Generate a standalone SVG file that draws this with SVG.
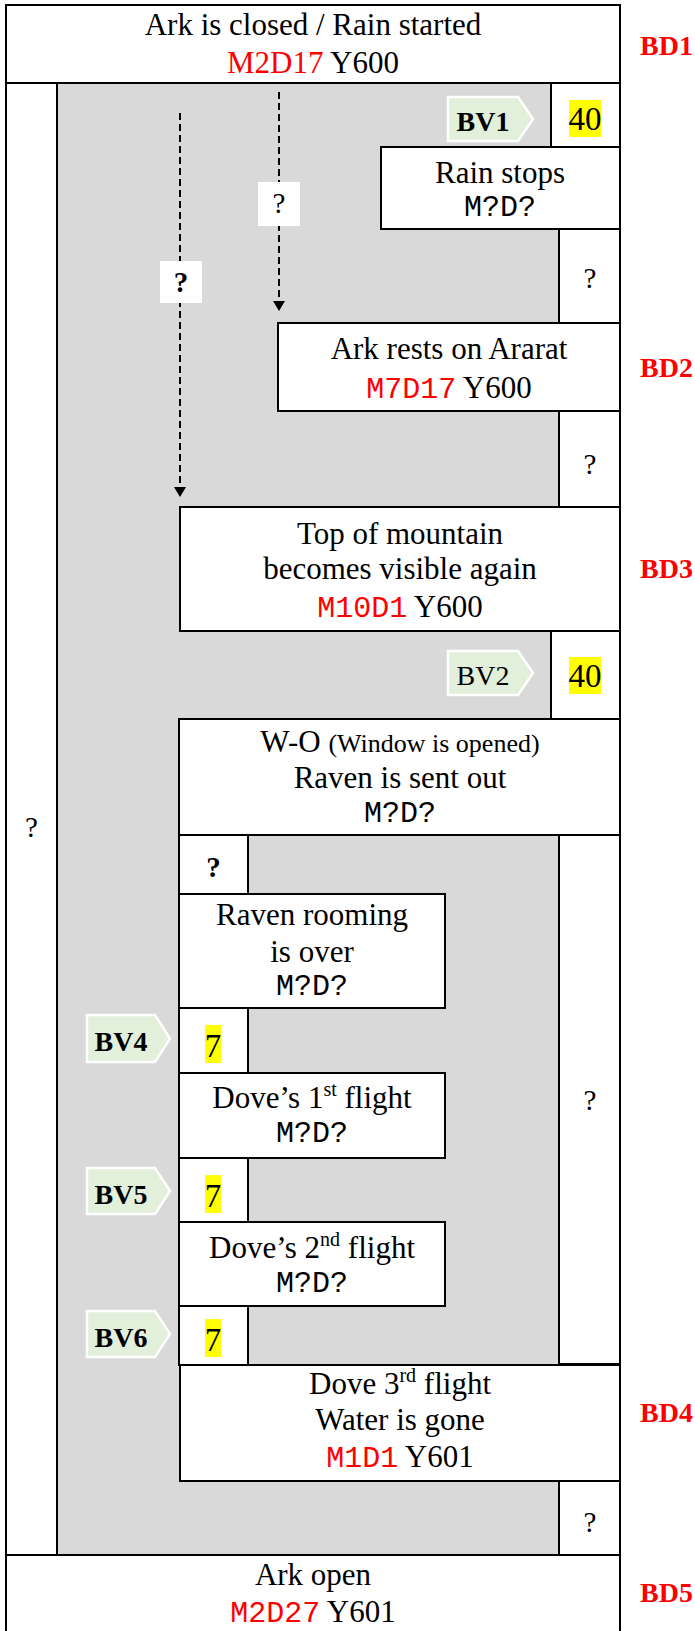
<svg xmlns="http://www.w3.org/2000/svg" width="695" height="1631" viewBox="0 0 695 1631">
<style>
.box{fill:#fff;stroke:#000;stroke-width:2}
.t{font-family:"Liberation Serif","Times New Roman",serif;font-size:31px;fill:#000;text-anchor:middle}
.sm{font-size:26px}
.mono{font-family:"Liberation Mono","Courier New",monospace;font-size:30px}
.red{fill:#ff0000}
.q{font-family:"Liberation Serif","Times New Roman",serif;font-size:29px;fill:#000;text-anchor:middle}
.qb{font-weight:bold}
.num{font-family:"Liberation Serif","Times New Roman",serif;font-size:33px;fill:#000;text-anchor:middle}
.hl{fill:#ffff00}
.chev{fill:#e2efda;stroke:#fff;stroke-width:2.5}
.bv{font-family:"Liberation Serif","Times New Roman",serif;font-size:28px;fill:#000;text-anchor:middle}
.bd{font-family:"Liberation Serif","Times New Roman",serif;font-size:28px;font-weight:bold;fill:#ff0000}
.dash{stroke:#000;stroke-width:2;stroke-dasharray:7 4;fill:none}
.lbl{fill:#fff}
</style>
<defs>
<marker id="arr" viewBox="0 0 10 12" refX="10" refY="6" markerWidth="10" markerHeight="12" markerUnits="userSpaceOnUse" orient="auto">
<path d="M0,0 L10,6 L0,12 Z" fill="#000"/>
</marker>
</defs>

<rect id="gray-area" x="57" y="83" width="502" height="1472" fill="#d9d9d9"/>

<g id="n-ark-closed">
<rect class="box" x="6" y="5" width="614" height="78"/>
<text class="t" x="313" y="35">Ark is closed / Rain started</text>
<text class="t" x="313" y="73"><tspan class="red">M2D17</tspan> Y600</text>
</g>
<g id="bd1"><text class="bd" x="640" y="55">BD1</text></g>

<g id="n-left-q">
<rect class="box" x="6" y="83" width="51" height="1472"/>
<text class="q" x="31.5" y="837">?</text>
</g>

<g id="n-40a">
<rect class="box" x="551" y="83" width="69" height="64"/>
<rect class="hl" x="569" y="100" width="32" height="37"/>
<text class="num" x="585" y="130">40</text>
</g>
<g id="bv1">
<polygon class="chev" points="448,97 518,97 533,119 518,141 448,141"/>
<text class="bv qb" x="483" y="131">BV1</text>
</g>

<g id="n-rain-stops">
<rect class="box" x="381" y="147" width="239" height="82"/>
<text class="t" x="500" y="183">Rain stops</text>
<text class="t mono" x="500" y="216">M?D?</text>
</g>

<g id="n-q1">
<rect class="box" x="559" y="229" width="61" height="94"/>
<text class="q" x="590" y="288">?</text>
</g>

<g id="n-ararat">
<rect class="box" x="278" y="323" width="342" height="88"/>
<text class="t" x="449" y="359">Ark rests on Ararat</text>
<text class="t" x="449" y="398"><tspan class="mono red">M7D17</tspan> Y600</text>
</g>
<g id="bd2"><text class="bd" x="640" y="377">BD2</text></g>

<g id="n-q2">
<rect class="box" x="559" y="411" width="61" height="96"/>
<text class="q" x="590" y="474">?</text>
</g>

<g id="n-top-mountain">
<rect class="box" x="180" y="507" width="440" height="124"/>
<text class="t" x="400" y="544">Top of mountain</text>
<text class="t" x="400" y="579">becomes visible again</text>
<text class="t" x="400" y="617"><tspan class="mono red">M10D1</tspan> Y600</text>
</g>
<g id="bd3"><text class="bd" x="640" y="578">BD3</text></g>

<g id="n-40b">
<rect class="box" x="551" y="631" width="69" height="88"/>
<rect class="hl" x="569" y="657" width="32" height="37"/>
<text class="num" x="585" y="687">40</text>
</g>
<g id="bv2">
<polygon class="chev" points="448,651 518,651 533,673 518,695 448,695"/>
<text class="bv" x="483" y="685">BV2</text>
</g>

<g id="n-window">
<rect class="box" x="179" y="719" width="441" height="116"/>
<text class="t" x="400" y="752">W-O <tspan class="sm">(Window is opened)</tspan></text>
<text class="t" x="400" y="788">Raven is sent out</text>
<text class="t mono" x="400" y="822">M?D?</text>
</g>

<g id="n-q3">
<rect class="box" x="179" y="835" width="69" height="59"/>
<text class="q qb" x="213.5" y="877">?</text>
</g>

<g id="n-q4">
<rect class="box" x="559" y="835" width="61" height="529"/>
<text class="q" x="590" y="1110">?</text>
</g>

<g id="n-raven-over">
<rect class="box" x="179" y="894" width="266" height="114"/>
<text class="t" x="312" y="925">Raven rooming</text>
<text class="t" x="312" y="962">is over</text>
<text class="t mono" x="312" y="995">M?D?</text>
</g>

<g id="n-7a">
<rect class="box" x="179" y="1008" width="69" height="65"/>
<rect class="hl" x="205" y="1025" width="16" height="38"/>
<text class="num" x="213" y="1057">7</text>
</g>
<g id="bv4">
<polygon class="chev" points="87,1015 155,1015 170,1038.5 155,1062 87,1062"/>
<text class="bv qb" x="121" y="1051">BV4</text>
</g>

<g id="n-dove1">
<rect class="box" x="179" y="1073" width="266" height="85"/>
<text class="t" x="312" y="1108">Dove’s 1<tspan font-size="20" dy="-12">st</tspan><tspan dy="12"> flight</tspan></text>
<text class="t mono" x="312" y="1142">M?D?</text>
</g>

<g id="n-7b">
<rect class="box" x="179" y="1158" width="69" height="64"/>
<rect class="hl" x="205" y="1175" width="16" height="38"/>
<text class="num" x="213" y="1207">7</text>
</g>
<g id="bv5">
<polygon class="chev" points="87,1168 155,1168 170,1191 155,1214 87,1214"/>
<text class="bv qb" x="121" y="1204">BV5</text>
</g>

<g id="n-dove2">
<rect class="box" x="179" y="1222" width="266" height="84"/>
<text class="t" x="312" y="1258">Dove’s 2<tspan font-size="20" dy="-12">nd</tspan><tspan dy="12"> flight</tspan></text>
<text class="t mono" x="312" y="1292">M?D?</text>
</g>

<g id="n-7c">
<rect class="box" x="179" y="1306" width="69" height="59"/>
<rect class="hl" x="205" y="1319" width="16" height="38"/>
<text class="num" x="213" y="1351">7</text>
</g>
<g id="bv6">
<polygon class="chev" points="87,1311 155,1311 170,1334 155,1357 87,1357"/>
<text class="bv qb" x="121" y="1347">BV6</text>
</g>

<g id="n-dove3">
<rect class="box" x="180" y="1365" width="440" height="116"/>
<text class="t" x="400" y="1394">Dove 3<tspan font-size="20" dy="-12">rd</tspan><tspan dy="12"> flight</tspan></text>
<text class="t" x="400" y="1430">Water is gone</text>
<text class="t" x="400" y="1467"><tspan class="mono red">M1D1</tspan> Y601</text>
</g>
<g id="bd4"><text class="bd" x="640" y="1422">BD4</text></g>

<g id="n-q5">
<rect class="box" x="559" y="1481" width="61" height="74"/>
<text class="q" x="590" y="1532">?</text>
</g>

<g id="n-ark-open">
<rect class="box" x="6" y="1555" width="614" height="90"/>
<text class="t" x="313" y="1585">Ark open</text>
<text class="t" x="313" y="1622"><tspan class="mono red">M2D27</tspan> Y601</text>
</g>
<g id="bd5"><text class="bd" x="640" y="1602">BD5</text></g>

<g id="connectors">
<line class="dash" x1="279" y1="92" x2="279" y2="311" marker-end="url(#arr)"/>
<rect class="lbl" x="258" y="182" width="42" height="44"/>
<text class="q" x="279" y="213">?</text>
<line class="dash" x1="180" y1="113" x2="180" y2="497" marker-end="url(#arr)" stroke-width="1.6"/>
<rect class="lbl" x="160" y="261" width="42" height="42"/>
<text class="q qb" x="181" y="292">?</text>
</g>
</svg>
